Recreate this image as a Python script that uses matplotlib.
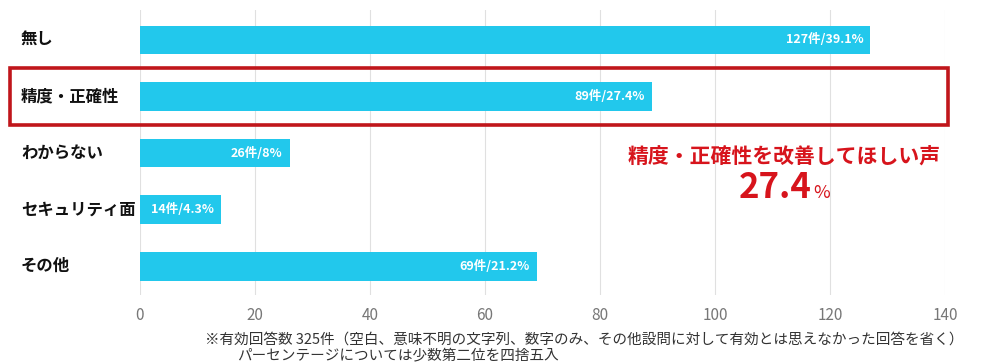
import matplotlib
matplotlib.use("Agg")
import matplotlib.pyplot as plt
from matplotlib.patches import Rectangle

plt.rcParams['font.family'] = ['Noto Sans CJK JP', 'DejaVu Sans']

categories = ["無し", "精度・正確性", "わからない", "セキュリティ面", "その他"]
counts = [127, 89, 26, 14, 69]
percents = ["39.1%", "27.4%", "8%", "4.3%", "21.2%"]
xticks = [0, 20, 40, 60, 80, 100, 120, 140]
footnote = ["※有効回答数 325件（空白、意味不明の文字列、数字のみ、その他設問に対して有効とは思えなかった回答を省く）",
            "パーセンテージについては少数第二位を四捨五入"]
callout_title = "精度・正確性を改善してほしい声"
callout_value = "27.4"

W, H = 981, 363
fig = plt.figure(figsize=(W / 100, H / 100), dpi=100)
ax = fig.add_axes([140 / W, 1 - 295 / H, (945 - 140) / W, (295 - 10) / H])

bar_color = "#22C8EC"
ypos = list(range(len(categories)))
ax.barh(ypos, counts, height=0.51, color=bar_color, zorder=2)
ax.set_xlim(0, 140)
ax.set_ylim(4.51, -0.53)
ax.set_xticks(xticks)
ax.set_xticklabels([str(t) for t in xticks], color="#777777", fontsize=11)
ax.tick_params(axis='x', length=0, pad=9)
ax.set_yticks([])
ax.grid(axis='x', color="#e0e0e0", linewidth=0.8, zorder=0)
for s in ax.spines.values():
    s.set_visible(False)

for y, c, p in zip(ypos, counts, percents):
    ax.annotate(f"{c}件/{p}", xy=(c, y), xytext=(-5, 0), textcoords="offset points",
                ha="right", va="center", color="white", fontsize=9, fontweight="bold", zorder=3)

# category labels
for y, cat in zip(ypos, categories):
    ax.annotate(cat, xy=(0, y), xycoords=("figure fraction", "data"), xytext=(21, 0),
                textcoords="offset pixels", ha="left", va="center", fontsize=11.8,
                fontweight="bold", color="#111111")

# highlight rectangle
rect = Rectangle((10 / W, 1 - 125 / H), (948 - 10) / W, (125 - 68) / H,
                 transform=fig.transFigure, fill=False, edgecolor="#C0161B", linewidth=2.6, zorder=5)
fig.patches.append(rect)

red = "#D7141C"
fig.text(784 / W, 1 - 157 / H, callout_title, ha="center", va="center", fontsize=15,
         fontweight="bold", color=red)
fig.text(812 / W, 1 - 188 / H, callout_value, ha="right", va="center", fontsize=25,
         fontweight="bold", color=red)
fig.text(813 / W, 1 - 193 / H, "%", ha="left", va="center", fontsize=13, color=red)

fig.text(205 / W, 1 - 340 / H, footnote[0], ha="left", va="center", fontsize=10.5, color="#333333")
fig.text(237 / W, 1 - 355 / H, footnote[1], ha="left", va="center", fontsize=10.5, color="#333333")

fig.savefig("out.png", dpi=100)
